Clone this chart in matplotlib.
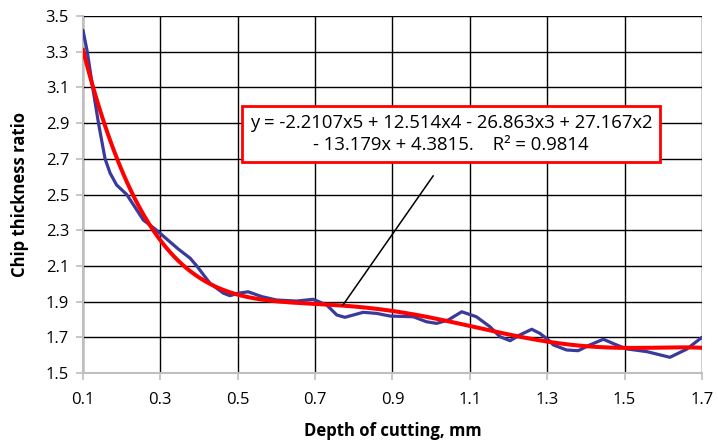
import numpy as np
import matplotlib
matplotlib.use('Agg')
import matplotlib.pyplot as plt

depth = [0.100, 0.111, 0.125, 0.140, 0.157, 0.170, 0.187, 0.213, 0.256, 0.290,
         0.346, 0.377, 0.394, 0.428, 0.463, 0.480, 0.501, 0.527, 0.562, 0.600,
         0.652, 0.695, 0.730, 0.756, 0.777, 0.824, 0.859, 0.894, 0.954, 0.988,
         1.014, 1.044, 1.079, 1.117, 1.152, 1.178, 1.204, 1.229, 1.260, 1.281,
         1.303, 1.316, 1.350, 1.380, 1.410, 1.445, 1.475, 1.505, 1.557, 1.617,
         1.660, 1.700]
ratio = [3.420, 3.300, 3.100, 2.900, 2.700, 2.620, 2.553, 2.500, 2.357, 2.300,
         2.195, 2.143, 2.100, 2.003, 1.947, 1.933, 1.947, 1.955, 1.928, 1.909,
         1.903, 1.913, 1.881, 1.825, 1.812, 1.840, 1.834, 1.819, 1.815, 1.787,
         1.778, 1.797, 1.843, 1.815, 1.759, 1.703, 1.681, 1.713, 1.745, 1.722,
         1.685, 1.657, 1.629, 1.625, 1.657, 1.689, 1.661, 1.635, 1.620, 1.588,
         1.633, 1.700]

# trendline coefficients shown in the chart (x^5 ... x^0)
coeffs = [-2.2107, 12.514, -26.863, 27.167, -13.179, 4.3815]
r2 = 0.9814

xticks = [0.1, 0.3, 0.5, 0.7, 0.9, 1.1, 1.3, 1.5, 1.7]
yticks = [1.5, 1.7, 1.9, 2.1, 2.3, 2.5, 2.7, 2.9, 3.1, 3.3, 3.5]

plt.rcParams['font.family'] = ['Open Sans', 'DejaVu Sans']

fig = plt.figure(figsize=(7.18, 4.42), dpi=100)
ax = fig.add_axes([0.1156, 0.1561, 0.8621, 0.8077])

ax.set_xlim(0.1, 1.7)
ax.set_ylim(1.5, 3.5)
ax.set_xticks(xticks)
ax.set_yticks(yticks)
ax.set_xticklabels([f'{v:.1f}' for v in xticks])
ax.set_yticklabels([f'{v:.1f}' for v in yticks])
ax.grid(True, color='black', linewidth=1.0, zorder=0)
ax.set_axisbelow(True)
for s in ['top', 'right']:
    ax.spines[s].set_visible(False)
for s in ['left', 'bottom']:
    ax.spines[s].set_color('#BFBFBF')
    ax.spines[s].set_linewidth(1.5)
    ax.spines[s].set_zorder(1)
ax.tick_params(axis='both', color='#BFBFBF', length=5, width=1.2,
               labelsize=12)
ax.tick_params(axis='x', pad=9)
ax.tick_params(axis='y', pad=5)

ax.plot(depth, ratio, color='#3A3A9C', linewidth=2.3, zorder=3,
        solid_capstyle='round', solid_joinstyle='round')

xfit = np.linspace(0.1, 1.7, 200)
ax.plot(xfit, np.polyval(coeffs, xfit), color='#FF0000', linewidth=2.9,
        zorder=4)

# leader line from label to trendline
ax.plot([0.772, 1.005], [1.881, 2.604], color='black', linewidth=1.1,
        zorder=5)

label = ('y = -2.2107x5 + 12.514x4 - 26.863x3 + 27.167x2\n'
         f'- 13.179x + 4.3815.    R\u00b2 = {r2}')
ax.text(1.051, 2.839, label, ha='center', va='center', multialignment='center',
        fontsize=13.3, linespacing=1.35, zorder=6,
        bbox=dict(boxstyle='square,pad=0.4', facecolor='white',
                  edgecolor='#FF0000', linewidth=2))

ax.set_xlabel('Depth of cutting, mm', fontsize=12, fontweight='bold',
              labelpad=10)
ax.set_ylabel('Chip thickness ratio', fontsize=12, fontweight='bold',
              labelpad=12)

fig.savefig('out.png', dpi=100)
